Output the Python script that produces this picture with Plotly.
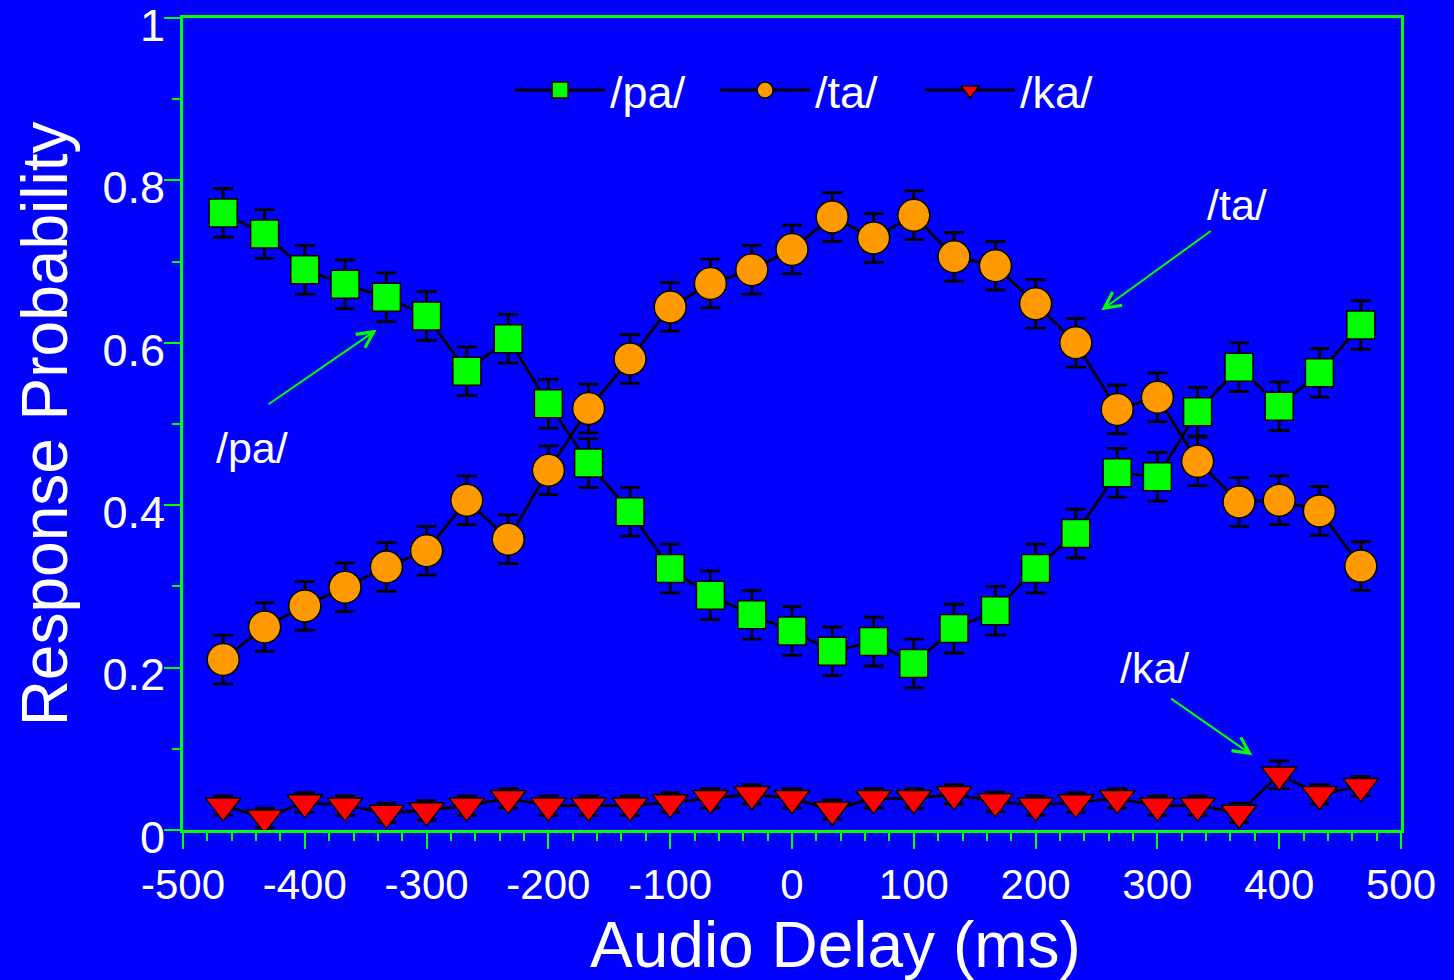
import plotly.graph_objects as go

# ---------------- data ----------------
delay_ms = [-467, -433, -400, -367, -333, -300, -267, -233, -200, -167, -133, -100, -67, -33,
            0, 33, 67, 100, 133, 167, 200, 233, 267, 300, 333, 367, 400, 433, 467]

pa_prob = [0.760, 0.734, 0.690, 0.672, 0.656, 0.633, 0.565, 0.605, 0.525, 0.452, 0.392, 0.322,
           0.289, 0.265, 0.245, 0.220, 0.232, 0.205, 0.248, 0.270, 0.322, 0.365, 0.440, 0.435,
           0.515, 0.570, 0.522, 0.563, 0.622]
pa_err = [0.03] * 29

ta_prob = [0.210, 0.250, 0.276, 0.299, 0.324, 0.344, 0.406, 0.358, 0.443, 0.519, 0.580, 0.644,
           0.673, 0.690, 0.715, 0.755, 0.729, 0.757, 0.706, 0.695, 0.648, 0.600, 0.518, 0.533,
           0.454, 0.404, 0.406, 0.393, 0.325]
ta_err = [0.03] * 29

ka_prob = [0.030, 0.015, 0.034, 0.030, 0.021, 0.024, 0.030, 0.039, 0.030, 0.030, 0.030, 0.034,
           0.039, 0.044, 0.039, 0.025, 0.039, 0.039, 0.044, 0.035, 0.030, 0.034, 0.039, 0.030,
           0.030, 0.021, 0.068, 0.044, 0.054]
ka_err = [0.012] * 26 + [0.017, 0.012, 0.012]

series_names = ["/pa/", "/ta/", "/ka/"]

x_tickvals = [-500, -400, -300, -200, -100, 0, 100, 200, 300, 400, 500]
x_ticktext = ["-500", "-400", "-300", "-200", "-100", "0", "100", "200", "300", "400", "500"]
y_tickvals = [0, 0.2, 0.4, 0.6, 0.8, 1]
y_ticktext = ["0", "0.2", "0.4", "0.6", "0.8", "1"]

# label / arrow positions (data coordinates)
callout_text = ["/pa/", "/ta/", "/ka/"]
callout_text_xy = [(-443, 0.470), (365, 0.770), (298, 0.200)]
callout_arrow_tail = [(-431, 0.523), (345, 0.739), (310, 0.163)]
callout_arrow_head = [(-341, 0.616), (254, 0.640), (378, 0.092)]

# ---------------- styling ----------------
BLUE = "#0000FF"
GREEN = "#00FF00"
ORANGE = "#FF9900"
RED = "#FF0000"
FONT = "Arial, Liberation Sans, sans-serif"

fig = go.Figure()

def add_series(name, y, err, symbol, color, size):
    fig.add_trace(go.Scatter(
        x=delay_ms, y=y, name=name, mode="lines+markers",
        line=dict(color="black", width=2.8),
        marker=dict(symbol=symbol, size=size, color=color,
                    line=dict(color="black", width=1.5)),
        error_y=dict(type="data", array=err, visible=True,
                     color="black", thickness=2.8, width=10),
    ))

add_series(series_names[0], pa_prob, pa_err, "square", GREEN, 28)
add_series(series_names[1], ta_prob, ta_err, "circle", ORANGE, 32)
add_series(series_names[2], ka_prob, ka_err, "triangle-down", RED, 31)

annotations = []
for txt, (tx, ty) in zip(callout_text, callout_text_xy):
    annotations.append(dict(x=tx, y=ty, xref="x", yref="y", text=txt, showarrow=False,
                            font=dict(family=FONT, size=43, color="white")))
for (ax_, ay_), (hx, hy) in zip(callout_arrow_tail, callout_arrow_head):
    annotations.append(dict(x=hx, y=hy, ax=ax_, ay=ay_, xref="x", yref="y",
                            axref="x", ayref="y", text="", showarrow=True,
                            arrowhead=5, arrowsize=1.6, arrowwidth=2, arrowcolor=GREEN))
# axis titles
annotations.append(dict(x=0.536, y=-0.142, xref="paper", yref="paper", text="Audio Delay (ms)",
                        showarrow=False, xanchor="center", yanchor="middle",
                        font=dict(family=FONT, size=64, color="white")))
annotations.append(dict(x=-0.113, y=0.5, xref="paper", yref="paper", text="Response Probability",
                        showarrow=False, xanchor="center", yanchor="middle", textangle=-90,
                        font=dict(family=FONT, size=64, color="white")))

axis_common = dict(
    showline=True, linecolor=GREEN, linewidth=3, mirror=True,
    showgrid=False, zeroline=False, automargin=False,
    ticks="outside", ticklen=16, tickwidth=2, tickcolor=GREEN,
    ticklabeloverflow="allow",
)

fig.update_layout(
    width=1454, height=980,
    paper_bgcolor=BLUE, plot_bgcolor=BLUE,
    margin=dict(l=183, r=53, t=18, b=150),
    showlegend=True,
    legend=dict(orientation="h", x=0.521, y=0.911, xanchor="center", yanchor="middle",
                bgcolor="rgba(0,0,0,0)", font=dict(family=FONT, size=45, color="white"),
                itemwidth=90, entrywidth=100, traceorder="normal"),
    xaxis=dict(range=[-500, 500], tickvals=x_tickvals, ticktext=x_ticktext,
               tickfont=dict(family=FONT, size=42, color="white"),
               minor=dict(dtick=20, tick0=0, ticks="outside", ticklen=8, tickwidth=1.5,
                          tickcolor=GREEN, showgrid=False),
               **axis_common),
    yaxis=dict(range=[0, 1], tickvals=y_tickvals, ticktext=y_ticktext,
               tickfont=dict(family=FONT, size=45, color="white"),
               ticklabelstandoff=-10, ticklabelshift=7,
               minor=dict(dtick=0.1, tick0=0, ticks="outside", ticklen=8, tickwidth=1.5,
                          tickcolor=GREEN, showgrid=False),
               **axis_common),
    annotations=annotations,
)

fig.write_html("out.html")
